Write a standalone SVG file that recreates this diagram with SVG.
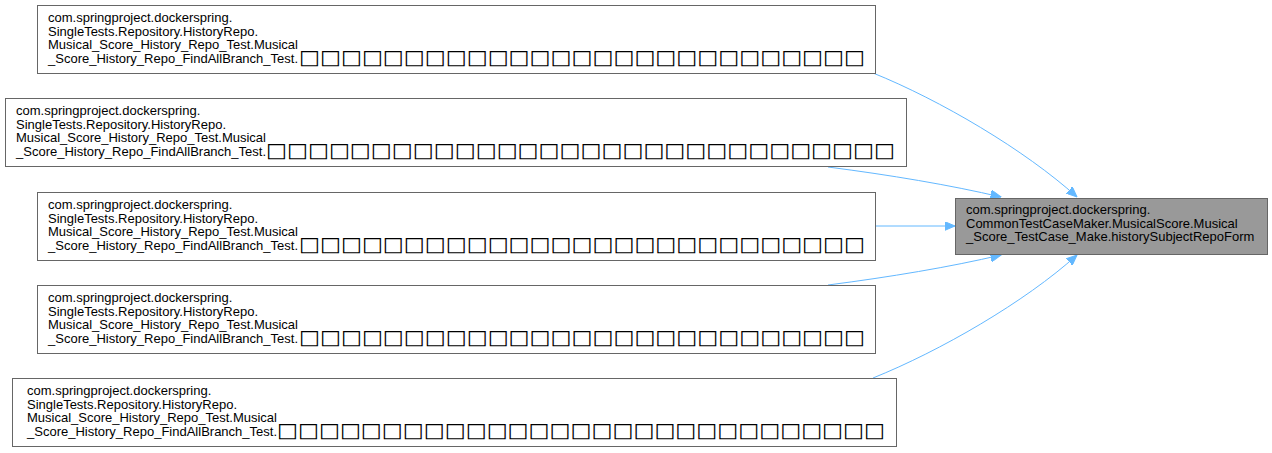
<svg xmlns="http://www.w3.org/2000/svg" width="1272" height="453" viewBox="0 0 1272 453">
<style>
.box{fill:#ffffff;stroke:#666666;stroke-width:1}
.tgt{fill:#999999;stroke:#666666;stroke-width:1}
text{font-family:"Liberation Sans",Arial,sans-serif;font-size:13px;fill:#000000}
text.tofu{font-family:"DejaVu Sans",sans-serif;font-size:20px}
.edge{fill:none;stroke:#63b8ff;stroke-width:1;marker-end:url(#ah)}
</style>
<defs>
<marker id="ah" markerUnits="userSpaceOnUse" markerWidth="11" markerHeight="9" refX="10.5" refY="4.5" orient="auto">
<path d="M0,0 L10.5,4.5 L0,9 z" fill="#63b8ff" stroke="#63b8ff" stroke-width="1"/>
</marker>
</defs>
<rect width="1272" height="453" fill="#ffffff"/>
<g id="connectors">
<path class="edge" d="M873,73 C940,100 1025,150 1077,197"/>
<path class="edge" d="M828,167 C890,175 950,185 1001,197"/>
<path class="edge" d="M876,226 L955,226"/>
<path class="edge" d="M828,285 C890,277 950,267 1001,255"/>
<path class="edge" d="M873,378 C940,351 1025,302 1077,255"/>
</g>
<g id="node1">
<rect class="box" x="37.5" y="5.5" width="838" height="68"/>
<text x="48" y="22">com.springproject.dockerspring.</text>
<text x="48" y="35.5">SingleTests.Repository.HistoryRepo.</text>
<text x="48" y="49">Musical_Score_History_Repo_Test.Musical</text>
<text x="48" y="62.5">_Score_History_Repo_FindAllBranch_Test.</text>
<text class="tofu" x="299" y="64" textLength="566" lengthAdjust="spacingAndGlyphs">□□□□□□□□□□□□□□□□□□□□□□□□□□□</text>
</g>
<g id="node2">
<rect class="box" x="5.5" y="98.5" width="901" height="68"/>
<text x="16" y="115">com.springproject.dockerspring.</text>
<text x="16" y="128.5">SingleTests.Repository.HistoryRepo.</text>
<text x="16" y="142">Musical_Score_History_Repo_Test.Musical</text>
<text x="16" y="155.5">_Score_History_Repo_FindAllBranch_Test.</text>
<text class="tofu" x="266" y="157" textLength="629" lengthAdjust="spacingAndGlyphs">□□□□□□□□□□□□□□□□□□□□□□□□□□□□□□</text>
</g>
<g id="node3">
<rect class="box" x="37.5" y="192.5" width="838" height="68"/>
<text x="48" y="209">com.springproject.dockerspring.</text>
<text x="48" y="222.5">SingleTests.Repository.HistoryRepo.</text>
<text x="48" y="236">Musical_Score_History_Repo_Test.Musical</text>
<text x="48" y="249.5">_Score_History_Repo_FindAllBranch_Test.</text>
<text class="tofu" x="299" y="251" textLength="566" lengthAdjust="spacingAndGlyphs">□□□□□□□□□□□□□□□□□□□□□□□□□□□</text>
</g>
<g id="node4">
<rect class="box" x="37.5" y="285.5" width="838" height="68"/>
<text x="48" y="302">com.springproject.dockerspring.</text>
<text x="48" y="315.5">SingleTests.Repository.HistoryRepo.</text>
<text x="48" y="329">Musical_Score_History_Repo_Test.Musical</text>
<text x="48" y="342.5">_Score_History_Repo_FindAllBranch_Test.</text>
<text class="tofu" x="299" y="344" textLength="566" lengthAdjust="spacingAndGlyphs">□□□□□□□□□□□□□□□□□□□□□□□□□□□</text>
</g>
<g id="node5">
<rect class="box" x="12.5" y="378.5" width="884" height="68"/>
<text x="27" y="395">com.springproject.dockerspring.</text>
<text x="27" y="408.5">SingleTests.Repository.HistoryRepo.</text>
<text x="27" y="422">Musical_Score_History_Repo_Test.Musical</text>
<text x="27" y="435.5">_Score_History_Repo_FindAllBranch_Test.</text>
<text class="tofu" x="277" y="437" textLength="608" lengthAdjust="spacingAndGlyphs">□□□□□□□□□□□□□□□□□□□□□□□□□□□□□</text>
</g>
<g id="target">
<rect class="tgt" x="955.5" y="198.5" width="312" height="56"/>
<text x="966" y="214">com.springproject.dockerspring.</text>
<text x="966" y="227.5">CommonTestCaseMaker.MusicalScore.Musical</text>
<text x="966" y="241">_Score_TestCase_Make.historySubjectRepoForm</text>
</g>
</svg>
